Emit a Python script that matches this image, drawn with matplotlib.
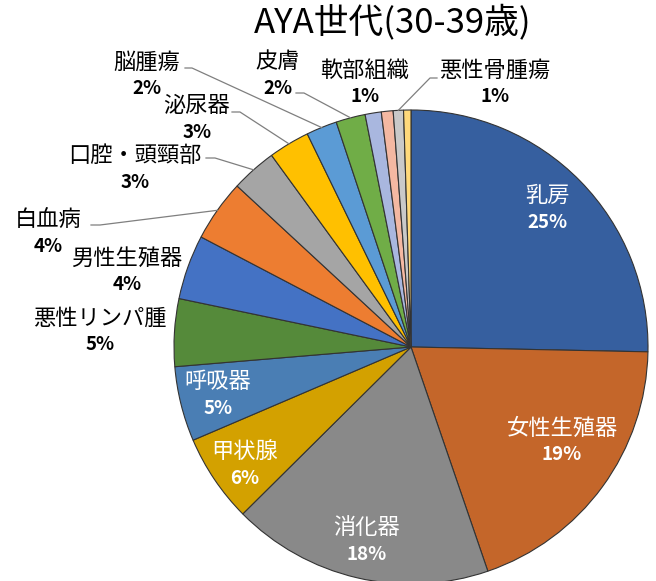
import numpy as np
import matplotlib
matplotlib.use('Agg')
import matplotlib.pyplot as plt

plt.rcParams['font.family'] = ['Noto Sans CJK JP', 'DejaVu Sans']

# data (clockwise from 12 o'clock)
names = ['乳房', '女性生殖器', '消化器', '甲状腺', '呼吸器', '悪性リンパ腫',
         '男性生殖器', '白血病', '口腔・頭頸部', '泌尿器', '脳腫瘍', '皮膚',
         '軟部組織', '', '悪性骨腫瘍', '']
values = [25.3, 19.4, 17.8, 6.0, 5.1, 4.6, 4.4, 4.2, 3.1, 2.8, 2.1, 2.0,
          1.1, 0.8, 0.7, 0.5]
pct_labels = ['25%', '19%', '18%', '6%', '5%', '5%', '4%', '4%', '3%', '3%',
              '2%', '2%', '1%', '', '1%', '']
colors = ['#365F9F', '#C4662A', '#898989', '#D3A100', '#4A7EB4', '#558A3A',
          '#4472C4', '#ED7D31', '#A5A5A5', '#FFC000', '#5B9BD5', '#70AD47',
          '#A9B7DF', '#F4B8A2', '#C9C9C9', '#FFD97A']

W, H = 656, 581
fig = plt.figure(figsize=(W / 100, H / 100), dpi=100)
ax = fig.add_axes([0, 0, 1, 1])

cx, cy, R = 411, H - 347, 237
wedges, _ = ax.pie(values, colors=colors, startangle=90, counterclock=False,
                   center=(cx, cy), radius=R,
                   wedgeprops=dict(edgecolor='#333333', linewidth=0.8))
ax.set_xlim(0, W)
ax.set_ylim(0, H)
ax.set_aspect('equal')
ax.axis('off')

# label placement in pixel coords (name centre), white = inside slice
label_pos = {0: (547, 195), 1: (562, 428), 2: (367, 527), 3: (245, 452),
             4: (218, 381), 5: (100, 318), 6: (127, 258), 7: (48, 219),
             8: (135, 155), 9: (197, 106), 10: (147, 62), 11: (278, 61),
             12: (365, 70), 14: (495, 70)}
inside = {0, 1, 2, 3, 4}
# leader lines: (start x, end of horizontal x, y) in pixels
leaders = {7: (91, 100, 225), 8: (206, 215, 158), 9: (232, 240, 112),
           10: (185, 192, 68), 11: (296, 304, 93), 14: (437, 430, 78)}

for i, (x, y) in label_pos.items():
    c = 'white' if i in inside else 'black'
    ax.text(x, H - y, names[i], ha='center', va='center', fontsize=16,
            color=c)
    ax.text(x, H - y - 27, pct_labels[i], ha='center', va='center',
            fontsize=13.5, fontweight='bold', color=c)

for i, (x0, x1, y) in leaders.items():
    w = wedges[i]
    ang = np.deg2rad((w.theta1 + w.theta2) / 2)
    px = cx + R * np.cos(ang)
    py = cy + R * np.sin(ang)
    ax.plot([x0, x1, px], [H - y, H - y, py], color='#7f7f7f', lw=0.9)

ax.text(393, H - 22, 'AYA世代(30-39歳)', ha='center', va='center',
        fontsize=25, color='black')

fig.savefig('out.png', dpi=100)
